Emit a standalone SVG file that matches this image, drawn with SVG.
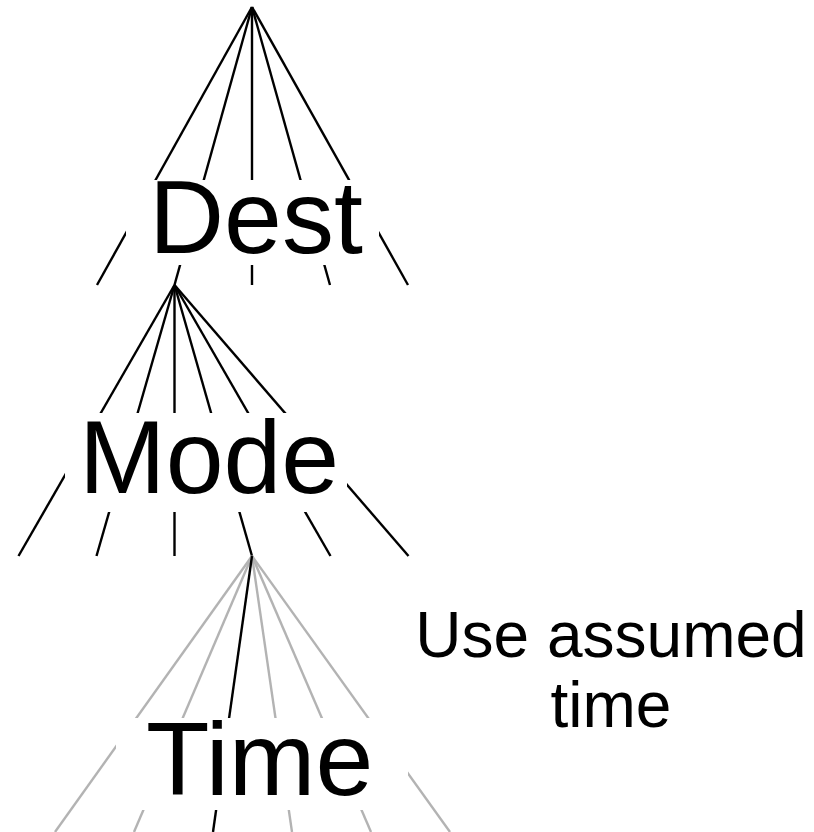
<svg xmlns="http://www.w3.org/2000/svg" width="814" height="832" viewBox="0 0 814 832">
<style>
.k{stroke:#000;stroke-width:2.4;fill:none}
.g{stroke:#b3b3b3;stroke-width:2.4;fill:none}
.bg{fill:#fff;stroke:none}
.lbl{font-family:"Liberation Sans",Arial,sans-serif;font-size:104px;fill:#000}
.note{font-family:"Liberation Sans",Arial,sans-serif;font-size:64px;fill:#000;text-anchor:middle}
</style>
<rect width="814" height="832" fill="#fff"/>
<g id="connectors">
<line class="k" x1="252" y1="7" x2="97" y2="285"/>
<line class="k" x1="252" y1="7" x2="174.5" y2="285"/>
<line class="k" x1="252" y1="7" x2="252" y2="285"/>
<line class="k" x1="252" y1="7" x2="330" y2="285"/>
<line class="k" x1="252" y1="7" x2="408" y2="285"/>
<line class="k" x1="174.5" y1="285" x2="18.5" y2="556"/>
<line class="k" x1="174.5" y1="285" x2="96.5" y2="556"/>
<line class="k" x1="174.5" y1="285" x2="174.5" y2="556"/>
<line class="k" x1="174.5" y1="285" x2="252" y2="556"/>
<line class="k" x1="174.5" y1="285" x2="330.5" y2="556"/>
<line class="k" x1="174.5" y1="285" x2="408.5" y2="556"/>
<line class="g" x1="252" y1="556" x2="55" y2="832"/>
<line class="g" x1="252" y1="556" x2="134" y2="832"/>
<line class="g" x1="252" y1="556" x2="292" y2="832"/>
<line class="g" x1="252" y1="556" x2="371" y2="832"/>
<line class="g" x1="252" y1="556" x2="450" y2="832"/>
<line class="k" x1="252" y1="556" x2="213" y2="832"/>
</g>
<g id="dest">
<rect class="bg" x="126" y="180" width="253" height="85"/>
<text class="lbl" x="149" y="253">Dest</text>
</g>
<g id="mode">
<rect class="bg" x="65" y="413" width="282" height="99"/>
<text class="lbl" x="79" y="493">Mode</text>
</g>
<g id="time">
<rect class="bg" x="116" y="718" width="292" height="92"/>
<text class="lbl" x="146" y="795">Time</text>
</g>
<g id="note">
<text class="note" x="611" y="657">Use assumed</text>
<text class="note" x="611" y="727">time</text>
</g>
</svg>
